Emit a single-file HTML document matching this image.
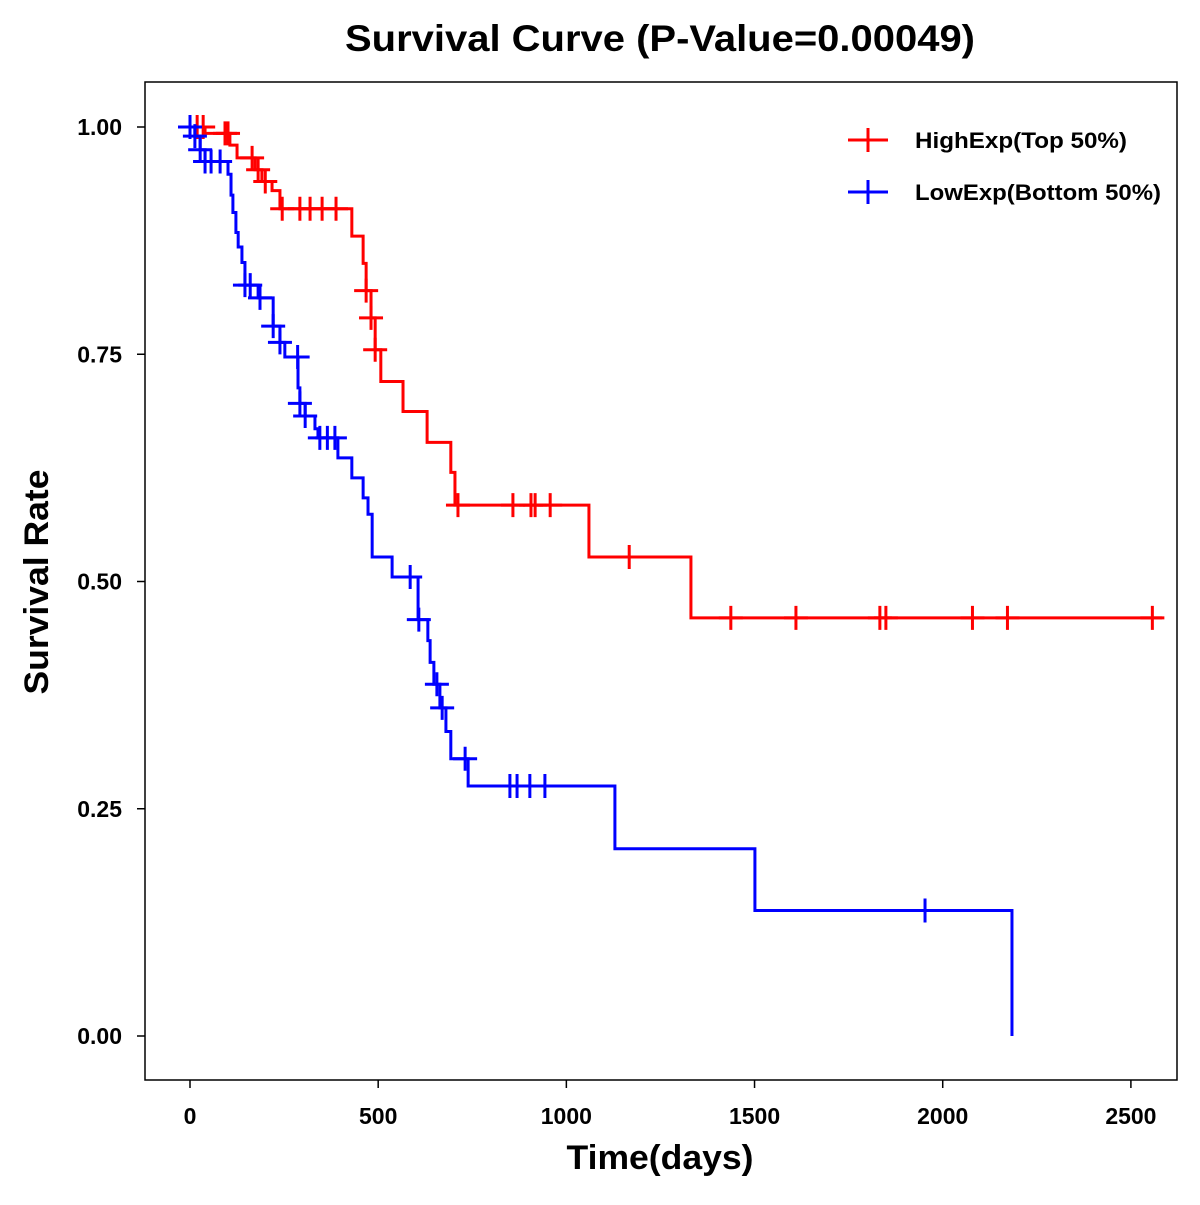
<!DOCTYPE html>
<html><head><meta charset="utf-8"><style>
body{margin:0;background:#fff}
svg text{font-family:"Liberation Sans",Arial,sans-serif;font-weight:bold}
</style></head><body>
<svg id="chart" width="1200" height="1200" xmlns="http://www.w3.org/2000/svg">
<text x="660" y="51" font-size="37" text-anchor="middle" textLength="630" lengthAdjust="spacingAndGlyphs">Survival Curve (P-Value=0.00049)</text>
<rect x="145" y="82" width="1032" height="998" fill="none" stroke="#000" stroke-width="1.5"/>
<g id="axes"></g>
<g id="series"></g>
<text x="660" y="1169" font-size="34" text-anchor="middle" textLength="187" lengthAdjust="spacingAndGlyphs">Time(days)</text>
<text transform="translate(48,582) rotate(-90)" font-size="34" text-anchor="middle" textLength="225" lengthAdjust="spacingAndGlyphs">Survival Rate</text>
<g>
<g>
<line x1="848" y1="140" x2="888" y2="140" stroke="#f00" stroke-width="3"/>
<line x1="868" y1="128" x2="868" y2="152" stroke="#f00" stroke-width="3"/>
<text x="915" y="148" font-size="22" textLength="212" lengthAdjust="spacingAndGlyphs">HighExp(Top 50%)</text></g>
<g>
<line x1="848" y1="192" x2="888" y2="192" stroke="#00f" stroke-width="3"/>
<line x1="868" y1="180" x2="868" y2="204" stroke="#00f" stroke-width="3"/>
<text x="915" y="200" font-size="22" textLength="246" lengthAdjust="spacingAndGlyphs">LowExp(Bottom 50%)</text></g>
</g>
</svg>
<script>
const xTicks=[0,500,1000,1500,2000,2500];
const yTicks=[0,0.25,0.5,0.75,1.0];
const yTickLabels=["0.00","0.25","0.50","0.75","1.00"];
const highTimes=[40,106,125,173,191,218,239,430,460,468,481,492,507,566,630,693,704,1060,1331];
const highSurv=[0.993,0.98,0.966,0.953,0.94,0.93,0.91,0.88,0.85,0.82,0.79,0.755,0.72,0.687,0.653,0.62,0.584,0.527,0.46];
const highEnd=2583;
const highCensor=[0,19,35,93,101,165,181,200,245,292,319,351,388,468,481,492,712,858,906,917,957,1167,1437,1610,1833,1849,2079,2172,2557];
const lowTimes=[13,27,40,101,109,114,122,128,138,146,181,221,239,252,287,292,306,332,340,393,430,460,473,484,537,606,632,638,648,664,680,693,739,1129,1501,2184];
const lowSurv=[0.99,0.975,0.962,0.948,0.925,0.906,0.884,0.868,0.851,0.826,0.812,0.781,0.763,0.747,0.713,0.696,0.682,0.668,0.658,0.636,0.614,0.592,0.574,0.527,0.505,0.458,0.435,0.411,0.387,0.361,0.335,0.305,0.275,0.206,0.138,0.0];
const lowEnd=2184;
const lowCensor=[0,13,27,40,56,80,146,160,186,221,239,286,292,306,345,365,385,585,608,656,670,731,850,869,903,943,1953];

const X=d=>190+d*0.37636, Y=s=>1036-s*909;
const NS="http://www.w3.org/2000/svg";
function mk(tag,attrs,parent){const e=document.createElementNS(NS,tag);for(const k in attrs)e.setAttribute(k,attrs[k]);parent.appendChild(e);return e;}
const axes=document.getElementById('axes');
xTicks.forEach(t=>{
 const l=mk('line',{x1:X(t),x2:X(t),y1:1080,y2:1088,stroke:'#000','stroke-width':1.5},axes);
 
 
 const tx=mk('text',{x:X(t),y:1124,'font-size':23,'text-anchor':'middle'},axes);tx.textContent=t;
 
 
});
yTicks.forEach((t,i)=>{
 const l=mk('line',{x1:137,x2:145,y1:Y(t),y2:Y(t),stroke:'#000','stroke-width':1.5},axes);
 
 
 const tx=mk('text',{x:122,y:Y(t)+8,'font-size':23,'text-anchor':'end'},axes);tx.textContent=yTickLabels[i];
 
 
});
function survAt(times,surv,t){let s=1;for(let i=0;i<times.length;i++){if(times[i]<=t)s=surv[i];}return s;}
const sg=document.getElementById('series');
function draw(times,surv,end,cens,color,name){
 const g=mk('g',{},sg);
 
 
 let d='M'+X(0)+','+Y(1);
 times.forEach((t,i)=>{d+=' H'+X(t)+' V'+Y(surv[i]);});
 d+=' H'+X(end);
 const p=mk('path',{d:d,fill:'none',stroke:color,'stroke-width':3},g);
 
 
 cens.forEach(t=>{
  const v=survAt(times,surv,t),cx=X(t),cy=Y(v);
  const c=mk('path',{d:`M${cx-12},${cy} H${cx+12} M${cx},${cy-12} V${cy+12}`,stroke:color,'stroke-width':3,fill:'none'},g);
  
  
 });
}
draw(highTimes,highSurv,highEnd,highCensor,'#f00','high-exp-series');
draw(lowTimes,lowSurv,lowEnd,lowCensor,'#00f','low-exp-series');
</script>
</body></html>
